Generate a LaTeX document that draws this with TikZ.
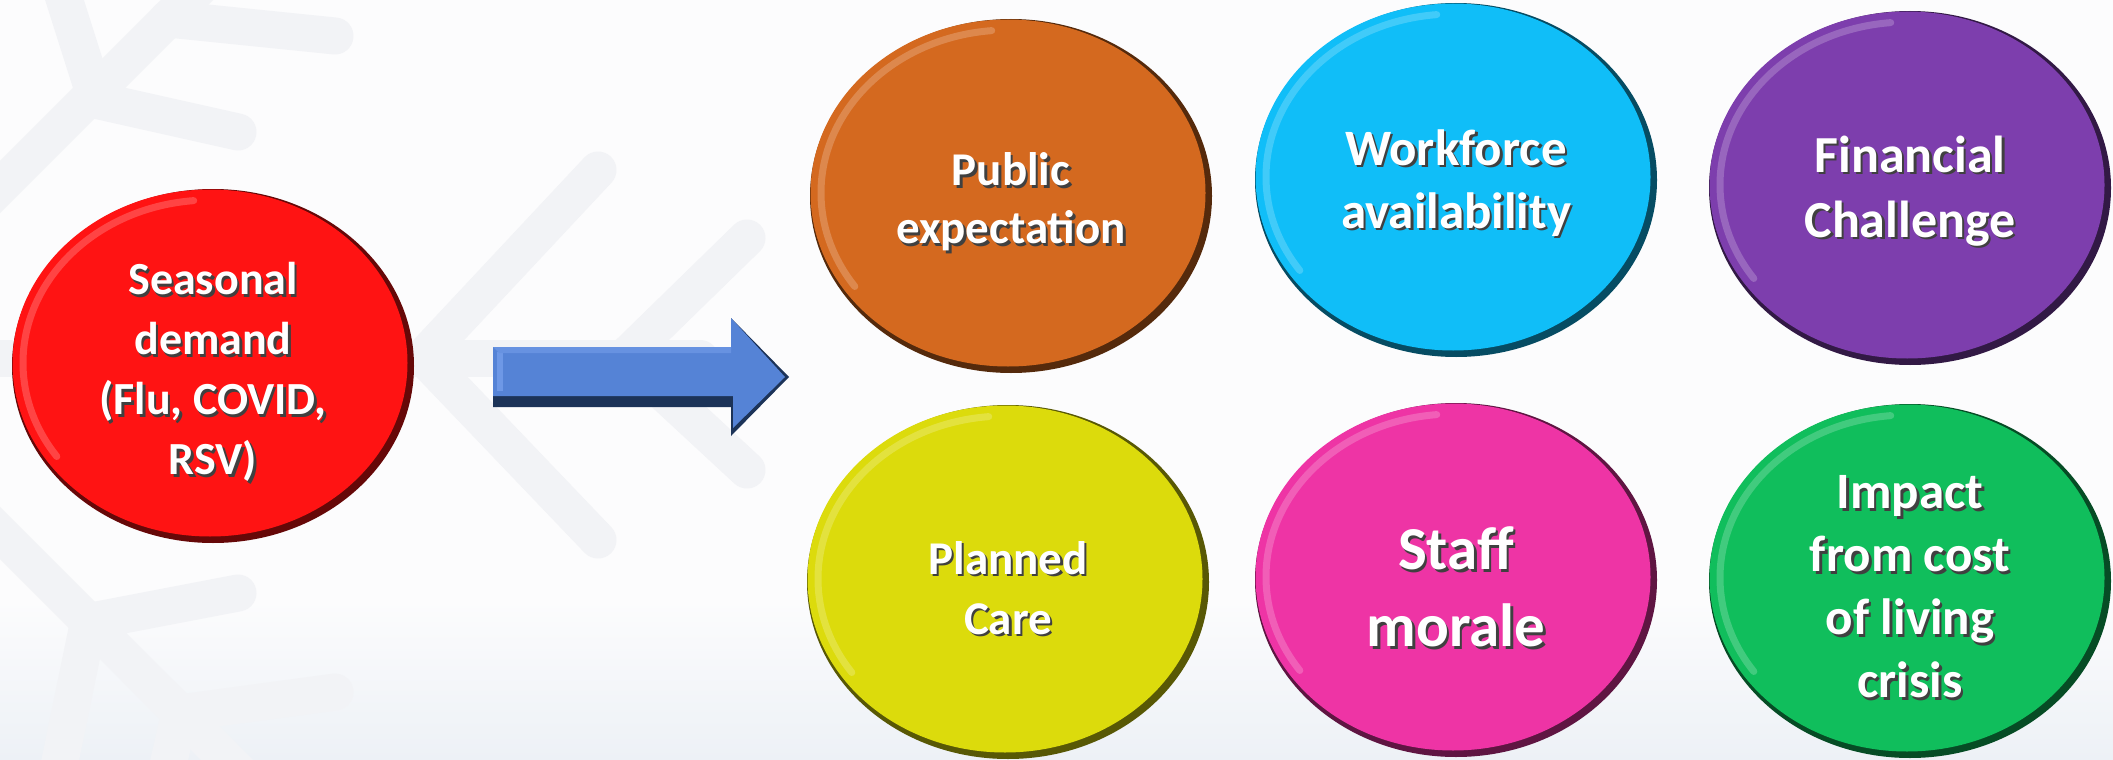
\documentclass[tikz,border=0pt]{standalone}
\usepackage{fontspec}
\setmainfont{Carlito}
\usetikzlibrary{shapes.geometric}
\definecolor{bgcol}{HTML}{FCFCFD}
\definecolor{bgbot}{HTML}{EDF1F6}
\definecolor{flakecol}{HTML}{F2F3F6}
\definecolor{cred}{HTML}{FF1313}
\definecolor{corange}{HTML}{D4691F}
\definecolor{ccyan}{HTML}{10BEF8}
\definecolor{cpurple}{HTML}{7D3EAD}
\definecolor{cyellow}{HTML}{DCDB0C}
\definecolor{cpink}{HTML}{EE34A5}
\definecolor{cgreen}{HTML}{10BE5C}
\definecolor{arrface}{HTML}{5583D6}
\definecolor{arrdark}{HTML}{1C3358}
\definecolor{arrlight}{HTML}{6E98E6}
\tikzset{
  flake/.style={draw=flakecol, line width=37pt, line cap=round, line join=round},
  bubtext/.style={text=white, align=center, inner sep=0pt},
}
% #1 name, #2 x, #3 y, #4 colour, #5 font size, #6 baselineskip, #7 text, #8 text y offset
\newcommand\drawbub[8]{%
  \fill[#4!40!black] (#2,#3) ellipse [x radius=201pt, y radius=177pt];
  \node[ellipse, fill=#4, minimum width=395pt, minimum height=347pt, inner sep=0pt] (#1) at (#2-3,#3-3) {};
  \draw[#4!40!white, line width=7pt, opacity=0.35, line cap=round] (#2-3,#3-3) ++(95:187pt and 163pt) arc[start angle=95, end angle=215, x radius=187pt, y radius=163pt];
  \node[bubtext, text=black!75, font=\bfseries\fontsize{#5}{#6}\selectfont] at (#2+2.5,#3+#8+2.5) {#7};
  \node[bubtext, font=\bfseries\fontsize{#5}{#6}\selectfont] (#1-t) at (#2,#3+#8) {#7};
}
\begin{document}
\begin{tikzpicture}[x=1pt, y=-1pt]
\useasboundingbox (0,0) rectangle (2113,760);
\fill[bgcol] (0,0) rectangle (2113,760);
\shade[top color=bgcol, bottom color=bgbot] (0,600) rectangle (2113,760);
% background snowflake
\begin{scope}
\clip (0,0) rectangle (2113,760);
\draw[flake] (-173,360) -- (240,-53);
\draw[flake] (94,93) -- (55,-30);
\draw[flake] (95,100) -- (238,132);
\draw[flake] (168,19) -- (335,36);
\draw[flake] (-173,360) -- (240,773);
\draw[flake] (97,620) -- (238,593);
\draw[flake] (88,625) -- (52,800);
\draw[flake] (180,713) -- (335,692);
\draw[flake] (180,713) -- (160,800);
\draw[flake] (-173,358) -- (700,358);
\draw[flake] (598,170) -- (423,357) -- (598,540);
\draw[flake] (747,238) -- (625,357) -- (747,470);
\end{scope}
% bubbles
\drawbub{seasonal}{213}{366}{cred}{46}{60}{Seasonal\\demand\\(Flu, COVID,\\RSV)}{6}
\drawbub{public}{1011}{196}{corange}{47}{58}{Public\\expectation}{6}
\drawbub{workforce}{1456}{180}{ccyan}{51}{63}{Workforce\\availability}{3}
\drawbub{financial}{1910}{188}{cpurple}{52}{65}{Financial\\Challenge}{3}
\drawbub{planned}{1008}{582}{cyellow}{47}{60}{Planned\\Care}{6}
\drawbub{staff}{1456}{580}{cpink}{61}{77}{Staff\\morale}{7}
\drawbub{impact}{1910}{581}{cgreen}{51}{63}{Impact\\from cost\\of living\\crisis}{6}
% block arrow
\coordinate (a1) at (493,347);
\coordinate (a2) at (731,347);
\coordinate (a3) at (731,318);
\coordinate (a4) at (789,377);
\coordinate (a5) at (731,436);
\coordinate (a6) at (731,407);
\coordinate (a7) at (493,407);
\fill[arrdark] (a1) -- (a2) -- (a3) -- (a4) -- (a5) -- (a6) -- (a7) -- cycle;
\fill[arrface] (a1) -- (a2) -- (a3) -- (785,377) -- (733,428) -- (733,396) -- (493,396) -- cycle;
\fill[arrlight] (497,352) rectangle (503,391);
\fill[arrlight!70!arrface] (a1) -- (a2) -- (731,353) -- (499,353) -- cycle;
\end{tikzpicture}
\end{document}
